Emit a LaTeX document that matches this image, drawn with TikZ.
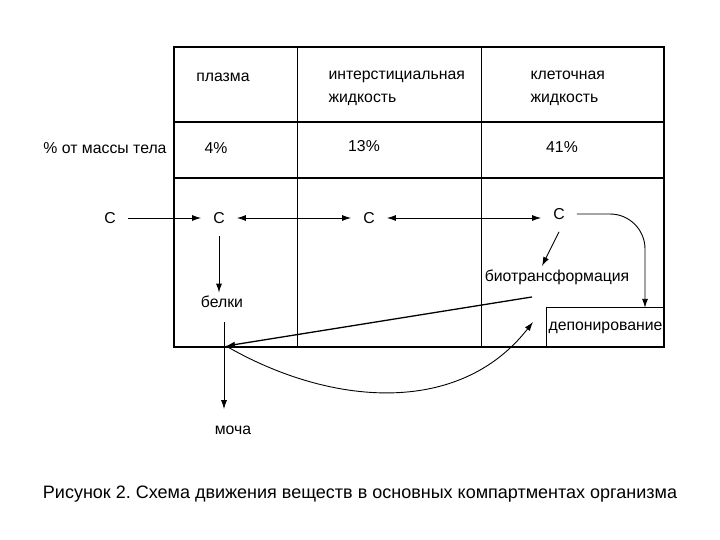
\documentclass[tikz,border=0pt]{standalone}
\usepackage{fontspec}
\setmainfont{Liberation Sans}
\usetikzlibrary{arrows.meta}
\frenchspacing
\begin{document}
\begin{tikzpicture}[x=1pt, y=1pt, >={Latex[length=9pt,width=6pt]},
	font=\fontsize{15.8}{23}\selectfont,
	subst/.style={inner sep=12pt},
	flow/.style={->, line width=0.9pt}]
\useasboundingbox (0,0) rectangle (720,-540);
\draw[line width=1.3pt] (174,-47) rectangle (664,-347);
\foreach \y in {122,178}
{
	\draw[line width=1.3pt] (174,-\y) -- (664,-\y);
}
\foreach \x in {297,481}
{
	\draw[line width=1pt] (\x,-47) -- (\x,-347);
}
\node (plasma) at (223,-77) {плазма};
\node (inter) [anchor=west, align=left] at (325,-88) {интерстициальная\\жидкость};
\node (cell) [anchor=west, align=left] at (527,-88) {клеточная\\жидкость};
\node (mass) at (105,-148) {\% от массы тела};
\node (p4) at (216,-148) {4\%};
\node (p13) at (364,-146) {13\%};
\node (p41) at (562,-147) {41\%};
\node[subst] (c0) at (110,-218) {С};
\node[subst] (c1) at (219,-218) {С};
\node[subst] (c2) at (369,-218) {С};
\node[subst] (c3) at (559,-214) {С};
\node (prot) at (222,-302) {белки};
\node (bio) at (557,-277) {биотрансформация};
\node[minimum width=117pt, minimum height=39pt, inner sep=0pt] (dep) at (605.5,-327.5) {депонирование};
\node (urine) at (233,-430) {моча};
\node (caption) at (360,-494) {\fontsize{18}{22}\selectfont Рисунок 2. Схема движения веществ в основных компартментах организма};
\draw[line width=1.2pt] (dep.south west) |- (dep.north east);
\coordinate (pb) at (226,-346);
\coordinate (dt) at (533,-322);
\coordinate (mu) at (224,-322);
\draw[flow] (c0) -- (c1);
\draw[flow, <->] (c1) -- (c2);
\draw[flow, <->] (c2) -- (c2 -| c3.west);
\draw[flow] (c1) -- (c1 |- prot.north);
\draw[flow] (c3.south) -- ([xshift=-15pt]bio.north);
\draw[flow, rounded corners=35pt] (c3.east) -| (dep.north -| 645,0);
\draw[flow, line width=1.3pt] ([shift={(-25,-9)}]bio.south) -- (pb);
\draw[flow] (pb) to[out=-30, in=-128] (dt);
\draw[flow] (mu) -- ([yshift=13pt]urine.north -| mu);
\end{tikzpicture}
\end{document}
